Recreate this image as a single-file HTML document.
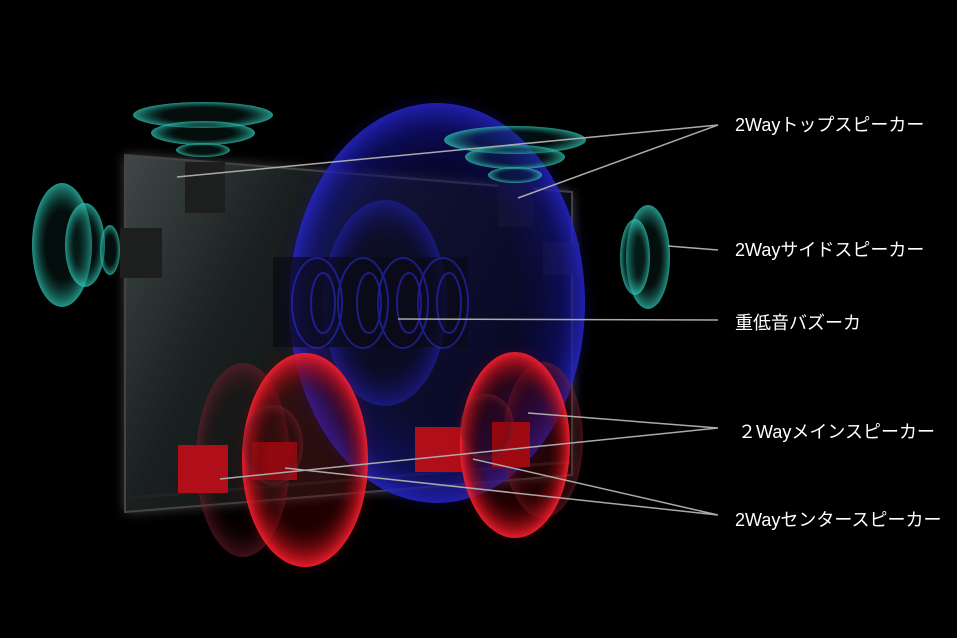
<!DOCTYPE html>
<html><head><meta charset="utf-8"><style>
html,body{margin:0;padding:0;background:#000;}
svg{display:block}
text{font-family:"Liberation Sans","Noto Sans CJK JP",sans-serif;font-size:18px;fill:#fff}
</style></head><body>
<svg width="957" height="638" viewBox="0 0 957 638" xmlns="http://www.w3.org/2000/svg">
<defs>
<filter id="b6" x="-30%" y="-30%" width="160%" height="160%"><feGaussianBlur stdDeviation="6"/></filter>
<filter id="b3" x="-30%" y="-30%" width="160%" height="160%"><feGaussianBlur stdDeviation="3"/></filter>
<linearGradient id="tv" x1="0" y1="0" x2="1" y2="0.4">
<stop offset="0" stop-color="#3f4847"/><stop offset="0.35" stop-color="#1a1f1f"/><stop offset="1" stop-color="#050606"/></linearGradient>
<radialGradient id="blue" cx="0.5" cy="0.5" r="0.5">
<stop offset="0.55" stop-color="#06062a" stop-opacity="0.25"/><stop offset="0.85" stop-color="#10107a" stop-opacity="0.55"/><stop offset="1" stop-color="#2525c8" stop-opacity="0.85"/></radialGradient>
<radialGradient id="blue2" cx="0.5" cy="0.5" r="0.5">
<stop offset="0.6" stop-color="#000" stop-opacity="0.2"/><stop offset="1" stop-color="#2020b0" stop-opacity="0.6"/></radialGradient>
<radialGradient id="red" cx="0.5" cy="0.5" r="0.5">
<stop offset="0.6" stop-color="#200" stop-opacity="0.15"/><stop offset="0.88" stop-color="#b0101a" stop-opacity="0.75"/><stop offset="1" stop-color="#ff2030" stop-opacity="0.9"/></radialGradient>
<radialGradient id="redf" cx="0.5" cy="0.5" r="0.5">
<stop offset="0.65" stop-color="#200" stop-opacity="0.1"/><stop offset="1" stop-color="#802030" stop-opacity="0.5"/></radialGradient>
<radialGradient id="teal" cx="0.5" cy="0.5" r="0.5">
<stop offset="0.55" stop-color="#0b3a35" stop-opacity="0.25"/><stop offset="1" stop-color="#2fc8b5" stop-opacity="0.75"/></radialGradient>
</defs>
<rect width="957" height="638" fill="#000"/>
<polygon points="125,155 572,192 572,475 125,512" fill="#777" filter="url(#b6)" opacity="0.6"/>
<polygon points="125,155 572,192 572,475 125,512" fill="url(#tv)"/>
<polygon points="125,155 572,192 572,475 125,512" fill="none" stroke="#444" stroke-width="2"/>
<line x1="128" y1="498" x2="570" y2="462" stroke="#222" stroke-width="3"/>
<rect x="185" y="162" width="40" height="51" fill="#1d1f1f"/>
<rect x="120" y="228" width="42" height="50" fill="#1d1f1f"/>
<rect x="498" y="180" width="35" height="47" fill="#161818"/>
<rect x="543" y="242" width="37" height="33" fill="#161818"/>
<ellipse cx="437" cy="303" rx="152" ry="204" fill="#1818a0" opacity="0.2" filter="url(#b6)"/>
<ellipse cx="437" cy="303" rx="148" ry="200" fill="url(#blue)"/>
<ellipse cx="385" cy="303" rx="62" ry="103" fill="url(#blue2)"/>
<rect x="273" y="257" width="195" height="90" fill="#0a0a14" opacity="0.7"/>
<g fill="none" stroke="#2a2ad0" stroke-width="2" opacity="0.6">
<ellipse cx="317" cy="303" rx="25" ry="45"/><ellipse cx="323" cy="303" rx="12" ry="30"/>
<ellipse cx="363" cy="303" rx="25" ry="45"/><ellipse cx="369" cy="303" rx="12" ry="30"/>
<ellipse cx="403" cy="303" rx="25" ry="45"/><ellipse cx="409" cy="303" rx="12" ry="30"/>
<ellipse cx="443" cy="303" rx="25" ry="45"/><ellipse cx="449" cy="303" rx="12" ry="30"/>
</g>
<g>
<ellipse cx="203" cy="115" rx="70" ry="13" fill="url(#teal)"/>
<ellipse cx="203" cy="133" rx="52" ry="12" fill="url(#teal)"/>
<ellipse cx="203" cy="150" rx="27" ry="7" fill="url(#teal)"/>
<ellipse cx="515" cy="140" rx="71" ry="14" fill="url(#teal)"/>
<ellipse cx="515" cy="157" rx="50" ry="12" fill="url(#teal)"/>
<ellipse cx="515" cy="175" rx="27" ry="8" fill="url(#teal)"/>
<ellipse cx="62" cy="245" rx="30" ry="62" fill="url(#teal)"/>
<ellipse cx="85" cy="245" rx="20" ry="42" fill="url(#teal)"/>
<ellipse cx="110" cy="250" rx="10" ry="25" fill="url(#teal)"/>
<ellipse cx="648" cy="257" rx="22" ry="52" fill="url(#teal)"/>
<ellipse cx="635" cy="257" rx="15" ry="38" fill="url(#teal)"/>
</g>
<ellipse cx="243" cy="460" rx="47" ry="97" fill="url(#redf)"/>
<ellipse cx="543" cy="440" rx="40" ry="78" fill="url(#redf)"/>
<g fill="#b00e18">
<rect x="178" y="445" width="50" height="48"/>
<rect x="252" y="442" width="45" height="38"/>
<rect x="415" y="427" width="47" height="45"/>
<rect x="492" y="422" width="38" height="45"/>
</g>
<ellipse cx="305" cy="460" rx="65" ry="109" fill="#c00" opacity="0.15" filter="url(#b6)"/>
<ellipse cx="305" cy="460" rx="63" ry="107" fill="url(#red)"/>
<ellipse cx="273" cy="445" rx="30" ry="40" fill="url(#redf)"/>
<ellipse cx="515" cy="445" rx="57" ry="95" fill="#c00" opacity="0.15" filter="url(#b6)"/>
<ellipse cx="515" cy="445" rx="55" ry="93" fill="url(#red)"/>
<ellipse cx="487" cy="427" rx="27" ry="33" fill="url(#redf)"/>
<g stroke="#aaa" stroke-width="1.5" fill="none">
<polyline points="177,177 718,125 518,198"/>
<line x1="668" y1="246" x2="718" y2="250"/>
<line x1="398" y1="319" x2="718" y2="320"/>
<polyline points="528,413 718,428 220,479"/>
<polyline points="285,468 718,515 473,459"/>
</g>
<text x="735" y="131">2Wayトップスピーカー</text>
<text x="735" y="256">2Wayサイドスピーカー</text>
<text x="735" y="329">重低音バズーカ</text>
<text x="738" y="438">２Wayメインスピーカー</text>
<text x="735" y="526">2Wayセンタースピーカー</text>
</svg>
</body></html>
